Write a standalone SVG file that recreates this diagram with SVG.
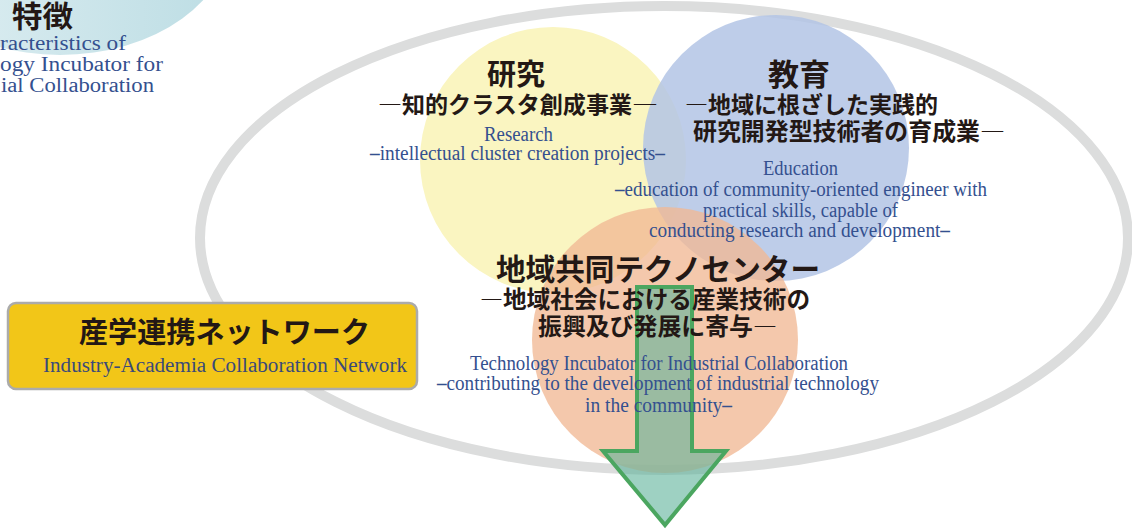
<svg xmlns="http://www.w3.org/2000/svg" width="1132" height="529" viewBox="0 0 1132 529">
<defs>
<linearGradient id="teal" x1="0" y1="0" x2="1" y2="0">
<stop offset="0" stop-color="#E2F0F3"/>
<stop offset="1" stop-color="#BCDDE4"/>
</linearGradient>
</defs>
<style>
.jp{font-family:"Noto Sans CJK JP","Noto Sans CJK SC",sans-serif;font-weight:700;fill:#231815;}
.dash{font-weight:300;}
.en{font-family:"Liberation Serif","DejaVu Serif",serif;fill:#34508F;font-size:20px;}
.ed{font-weight:700;}
</style>
<rect width="1132" height="529" fill="#FFFFFF"/>
<g id="heading">
<ellipse cx="60" cy="-70" rx="173" ry="125" fill="url(#teal)"/>
<text class="jp" x="12" y="27" font-size="30" textLength="61" lengthAdjust="spacingAndGlyphs">特徴</text>
<text class="en" x="0" y="50" font-size="21" textLength="126" lengthAdjust="spacingAndGlyphs">racteristics of</text>
<text class="en" x="0" y="71" font-size="21" textLength="163" lengthAdjust="spacingAndGlyphs">ogy Incubator for</text>
<text class="en" x="1" y="92" font-size="21" textLength="153" lengthAdjust="spacingAndGlyphs">ial Collaboration</text>
</g>
<g id="network-ring">
<ellipse cx="664" cy="238" rx="464" ry="232" fill="none" stroke="#DCDDDD" stroke-width="10"/>
</g>
<g id="research">
<circle cx="553" cy="160" r="133" fill="#FAF5C1"/>
</g>
<g id="education">
<circle cx="776" cy="148" r="133" fill="#B3C4E5" fill-opacity="0.85"/>
</g>
<g id="technocenter">
<circle cx="665" cy="340" r="133" fill="#F1B895" fill-opacity="0.78"/>
</g>
<g id="connectors">
<path d="M637,287 L692,287 L692,451 L726,451 L665,525 L603,451 L637,451 Z" fill="#5DB39A" fill-opacity="0.6" stroke="#4BA660" stroke-width="4" stroke-linejoin="miter"/>
</g>
<g id="research-text">
<text class="jp" x="487" y="85" font-size="29" textLength="58" lengthAdjust="spacingAndGlyphs">研究</text>
<text class="jp" y="113" font-size="23"><tspan class="dash" x="378" textLength="24" lengthAdjust="spacingAndGlyphs">―</tspan><tspan x="402" textLength="230" lengthAdjust="spacingAndGlyphs">知的クラスタ創成事業</tspan><tspan class="dash" x="632" textLength="26" lengthAdjust="spacingAndGlyphs">―</tspan></text>
<text class="en" x="484" y="141" textLength="69" lengthAdjust="spacingAndGlyphs">Research</text>
<text class="en" x="370" y="160" textLength="295" lengthAdjust="spacingAndGlyphs"><tspan class="ed">–</tspan>intellectual cluster creation projects<tspan class="ed">–</tspan></text>
</g>
<g id="education-text">
<text class="jp" x="768" y="85" font-size="30" textLength="62" lengthAdjust="spacingAndGlyphs">教育</text>
<text class="jp" y="113" font-size="23"><tspan class="dash" x="685" textLength="23" lengthAdjust="spacingAndGlyphs">―</tspan><tspan x="708" textLength="230" lengthAdjust="spacingAndGlyphs">地域に根ざした実践的</tspan></text>
<text class="jp" y="140" font-size="24"><tspan x="693" textLength="287" lengthAdjust="spacingAndGlyphs">研究開発型技術者の育成業</tspan><tspan class="dash" x="980" textLength="25" lengthAdjust="spacingAndGlyphs">―</tspan></text>
<text class="en" x="763" y="175" textLength="75" lengthAdjust="spacingAndGlyphs">Education</text>
<text class="en" x="615" y="196" textLength="372" lengthAdjust="spacingAndGlyphs"><tspan class="ed">–</tspan>education of community-oriented engineer with</text>
<text class="en" x="703" y="217" textLength="195" lengthAdjust="spacingAndGlyphs">practical skills, capable of</text>
<text class="en" x="649" y="237" textLength="301" lengthAdjust="spacingAndGlyphs">conducting research and development<tspan class="ed">–</tspan></text>
</g>
<g id="technocenter-text">
<text class="jp" x="496" y="280" font-size="30" textLength="324" lengthAdjust="spacingAndGlyphs">地域共同テクノセンター</text>
<text class="jp" y="308" font-size="24"><tspan class="dash" x="480" textLength="23" lengthAdjust="spacingAndGlyphs">―</tspan><tspan x="503" textLength="307" lengthAdjust="spacingAndGlyphs">地域社会における産業技術の</tspan></text>
<text class="jp" y="335" font-size="24"><tspan x="538" textLength="215" lengthAdjust="spacingAndGlyphs">振興及び発展に寄与</tspan><tspan class="dash" x="753" textLength="24" lengthAdjust="spacingAndGlyphs">―</tspan></text>
<text class="en" x="470" y="370" textLength="378" lengthAdjust="spacingAndGlyphs">Technology Incubator for Industrial Collaboration</text>
<text class="en" x="437" y="390" textLength="442" lengthAdjust="spacingAndGlyphs"><tspan class="ed">–</tspan>contributing to the development of industrial technology</text>
<text class="en" x="585" y="412" textLength="147" lengthAdjust="spacingAndGlyphs">in the community<tspan class="ed">–</tspan></text>
</g>
<g id="industry-network">
<rect x="8" y="303" width="409" height="86" rx="8" ry="8" fill="#F2C618" stroke="#ABABAB" stroke-width="2.5"/>
<text class="jp" x="79" y="343" font-size="29" textLength="291" lengthAdjust="spacingAndGlyphs">産学連携ネットワーク</text>
<text class="en" x="43" y="372" textLength="364" lengthAdjust="spacingAndGlyphs" style="fill:#3A4A7A">Industry-Academia Collaboration Network</text>
</g>
</svg>
